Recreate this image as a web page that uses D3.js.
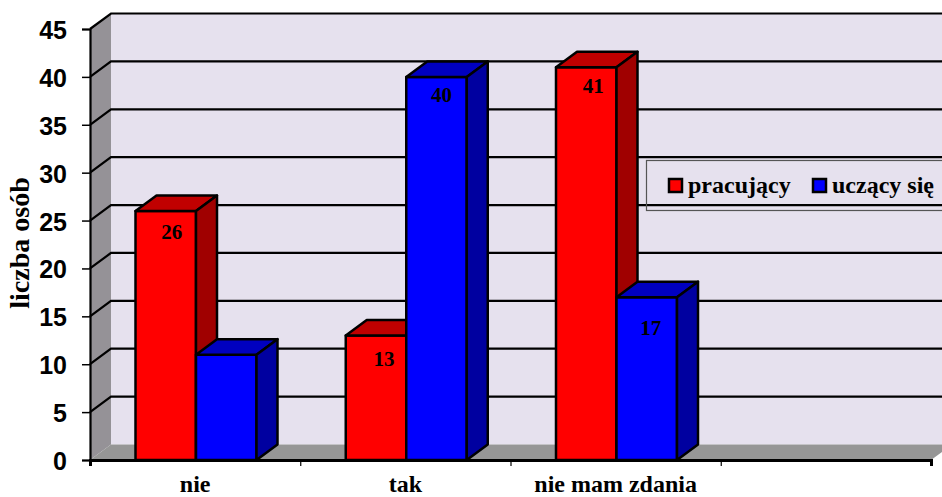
<!DOCTYPE html>
<html>
<head>
<meta charset="utf-8">
<title>liczba osób</title>
<script src="https://d3js.org/d3.v7.min.js"></script>
<style>
body { margin: 0; background: #fff; }
svg { display: block; }
text { fill: #000; }
.serif { font-family: "Liberation Serif", serif; font-weight: bold; }
.yAxis text { font-family: "Liberation Sans", sans-serif; font-weight: bold; font-size: 25px; }
</style>
</head>
<body>
<div class="chart"></div>
<script>
var categories = ["nie", "tak", "nie mam zdania", ""];
var seriesNames = ["pracujący", "uczący się"];
var pracujacy = [26, 13, 41];
var uczacySie = [11, 40, 17];
var yTicks = [0, 5, 10, 15, 20, 25, 30, 35, 40, 45];

var svgWidth = 942;
var svgHeight = 497;

// the 3D box: front plane corners and how far the back wall is shifted
var plot = { left: 90, right: 931, top: 29, bottom: 460 };
var depth = { x: 21, y: -15.5 };

var colors = {
    wall: "#e6e1ee",
    side: "#959297",
    floor: "#969696",
    pracujacy: { front: "#ff0000", top: "#c00000", side: "#a00000" },
    uczacy: { front: "#0000ff", top: "#0000c0", side: "#0000a0" }
};

var svg = d3.select(".chart")
    .append("svg")
    .attr("width", svgWidth)
    .attr("height", svgHeight);

var xBand = d3.scaleBand()
    .domain(categories)
    .range([plot.left, plot.right]);

var xSeries = d3.scaleBand()
    .domain(seriesNames)
    .range([45.5, 166.5]);

var yScale = d3.scaleLinear()
    .domain([0, 45])
    .range([plot.bottom, plot.top]);

function poly(points, fill, stroke) {
    return svg.append("polygon")
        .attr("points", points.map(p => p.join(",")).join(" "))
        .attr("fill", fill)
        .attr("stroke", stroke || "none")
        .attr("stroke-width", 2.5)
        .attr("stroke-linejoin", "round");
}

// back wall, side wall, floor
var backLeft = plot.left + depth.x;
var backRight = plot.right + depth.x;
poly([[backLeft, plot.top + depth.y], [backRight, plot.top + depth.y],
      [backRight, plot.bottom + depth.y], [backLeft, plot.bottom + depth.y]], colors.wall);
poly([[plot.left, plot.top], [backLeft, plot.top + depth.y],
      [backLeft, plot.bottom + depth.y], [plot.left, plot.bottom]], colors.side);
poly([[plot.left, plot.bottom], [backLeft, plot.bottom + depth.y],
      [backRight, plot.bottom + depth.y], [plot.right, plot.bottom]], colors.floor);

// gridlines run along the side wall and then across the back wall
svg.append("g")
    .selectAll("polyline")
    .data(yTicks.filter(d => d > 0))
    .enter()
    .append("polyline")
    .attr("points", d => [
        [plot.left, yScale(d)],
        [backLeft, yScale(d) + depth.y],
        [backRight, yScale(d) + depth.y]
    ].join(" "))
    .attr("fill", "none")
    .attr("stroke", "#000")
    .attr("stroke-width", 2.2);

// y axis
var yAxis = svg.append("g")
    .attr("class", "yAxis")
    .attr("transform", `translate(${plot.left}, 0)`)
    .call(d3.axisLeft(yScale).tickValues(yTicks).tickSize(8).tickPadding(15));
yAxis.select(".domain").attr("stroke-width", 2.2);
yAxis.selectAll(".tick line").attr("stroke-width", 1.5);
yAxis.selectAll(".tick text").attr("dy", "0.38em");

// x axis: ticks sit on the band edges, labels are placed under the band centres
var xEdges = d3.scaleLinear().domain([0, 4]).range([plot.left, plot.right]);
var xAxis = svg.append("g")
    .attr("transform", `translate(0, ${plot.bottom})`)
    .call(d3.axisBottom(xEdges).ticks(4).tickSize(6).tickFormat(""));
xAxis.select(".domain").attr("stroke-width", 3);
xAxis.selectAll(".tick line").attr("stroke-width", 1.2);

svg.selectAll(".catLabel")
    .data(categories.filter(d => d !== ""))
    .enter()
    .append("text")
    .attr("class", "catLabel serif")
    .attr("x", d => xBand(d) + xBand.bandwidth() / 2)
    .attr("y", 491.5)
    .attr("text-anchor", "middle")
    .attr("font-size", 24)
    .text(d => d);

// one 3D bar: front face, roof, right side
function drawBar(category, name, value, c) {
    var x0 = xBand(category) + xSeries(name);
    var x1 = x0 + xSeries.bandwidth();
    var y0 = yScale(value);
    var y1 = plot.bottom;
    poly([[x0, y0], [x1, y0], [x1, y1], [x0, y1]], c.front, "#000");
    poly([[x0, y0], [x0 + depth.x, y0 + depth.y], [x1 + depth.x, y0 + depth.y], [x1, y0]], c.top, "#000");
    poly([[x1, y0], [x1 + depth.x, y0 + depth.y], [x1 + depth.x, y1 + depth.y], [x1, y1]], c.side, "#000");
}

categories.slice(0, 3).forEach(function(cat, i) {
    drawBar(cat, seriesNames[0], pracujacy[i], colors.pracujacy);
    drawBar(cat, seriesNames[1], uczacySie[i], colors.uczacy);
});

// value labels, nudged off the bar centre; the second series of "nie" has none
var labelNudge = [
    { cat: 0, s: 0, v: pracujacy[0], dx: 6, dy: 28 },
    { cat: 1, s: 0, v: pracujacy[1], dx: 8, dy: 31 },
    { cat: 2, s: 0, v: pracujacy[2], dx: 7, dy: 26 },
    { cat: 1, s: 1, v: uczacySie[1], dx: 5, dy: 25 },
    { cat: 2, s: 1, v: uczacySie[2], dx: 4, dy: 38 }
];
svg.selectAll(".valueLabel")
    .data(labelNudge)
    .enter()
    .append("text")
    .attr("class", "valueLabel serif")
    .attr("x", d => xBand(categories[d.cat]) + xSeries(seriesNames[d.s]) + xSeries.bandwidth() / 2 + d.dx)
    .attr("y", d => yScale(d.v) + d.dy)
    .attr("text-anchor", "middle")
    .attr("font-size", 21)
    .text(d => d.v);

// axis title
svg.append("text")
    .attr("class", "serif")
    .attr("transform", "translate(29, 243) rotate(-90)")
    .attr("text-anchor", "middle")
    .attr("font-size", 28)
    .text("liczba osób");

// legend
svg.append("rect")
    .attr("x", 646.5)
    .attr("y", 160.5)
    .attr("width", 300)
    .attr("height", 50)
    .attr("fill", "none")
    .attr("stroke", "#555")
    .attr("stroke-width", 1.2);

var legendItems = [
    { name: seriesNames[0], fill: colors.pracujacy.front, x: 669 },
    { name: seriesNames[1], fill: colors.uczacy.front, x: 813 }
];
var legend = svg.selectAll(".legendItem")
    .data(legendItems)
    .enter()
    .append("g")
    .attr("class", "legendItem")
    .attr("transform", d => `translate(${d.x}, 179)`);
legend.append("rect")
    .attr("width", 13)
    .attr("height", 13)
    .attr("fill", d => d.fill)
    .attr("stroke", "#000")
    .attr("stroke-width", 2.5);
legend.append("text")
    .attr("class", "serif")
    .attr("x", 19)
    .attr("y", 14)
    .attr("font-size", 24)
    .text(d => d.name);
</script>
</body>
</html>
